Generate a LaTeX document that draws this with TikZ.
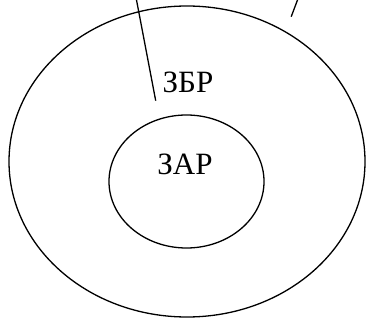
\documentclass[tikz,border=0pt]{standalone}
\usepackage{fontspec}
\setmainfont{Liberation Serif}
\usetikzlibrary{shapes.geometric}

\begin{document}
\begin{tikzpicture}[x=1pt, y=-1pt, line width=1.3pt,
    zone/.style={draw, ellipse, inner sep=0pt},
    lbl/.style={inner sep=0pt, font=\fontsize{31}{36}\selectfont}]
    \useasboundingbox (0,0) rectangle (366,320);
    \node[zone, minimum width=356, minimum height=311] (zbr) at (187,161.5) {};
    \node[zone, minimum width=155, minimum height=133] (zar) at (186.5,181.5) {};
    \node[lbl] (zbrlbl) at (188,82) {ЗБР};
    \node[lbl] (zarlbl) at (185,164) {ЗАР};
    \coordinate (l1top) at (136.5,0);
    \coordinate (l1end) at (155.7,100.7);
    \coordinate (l2top) at (297.5,0);
    \coordinate (l2end) at (291.2,16.7);
    \draw (l1top) -- (l1end);
    \draw (l2top) -- (l2end);
\end{tikzpicture}
\end{document}
